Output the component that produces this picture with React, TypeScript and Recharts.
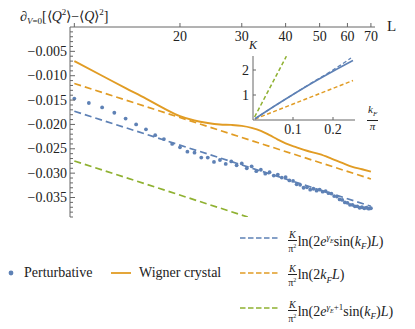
import React from 'react';
import { LineChart, Line, XAxis, YAxis } from 'recharts';

const BLUE = '#5e81b5';
const ORANGE = '#e19c24';
const GREEN = '#8fb131';
const AXIS = '#666';
const FONT = '"Liberation Serif", "Times New Roman", Times, serif';

// perturbative result, one value per integer L starting at 10
const perturbativeValues = [
  -0.0147, -0.0156, -0.0165, -0.0176, -0.0188, -0.02, -0.021, -0.0222, -0.023, -0.024,
  -0.0247, -0.0256, -0.0258, -0.0268, -0.0268, -0.0277, -0.0273, -0.0281, -0.0276, -0.0284,
  -0.028, -0.029, -0.0286, -0.0296, -0.0293, -0.0301, -0.0298, -0.0305, -0.0303, -0.0309,
  -0.0308, -0.0315, -0.0316, -0.0323, -0.0324, -0.033, -0.0329, -0.0334, -0.0332, -0.0336,
  -0.0334, -0.0338, -0.0337, -0.0341, -0.0342, -0.0347, -0.0348, -0.0354, -0.0355, -0.036,
  -0.0361, -0.0365, -0.0365, -0.0368, -0.0368, -0.0371, -0.037, -0.0372, -0.0371, -0.0373,
  -0.0372,
];

const wignerL = [10, 12, 14, 16, 18, 20, 22, 24, 26, 28, 30, 32, 34, 36, 38, 40, 43, 46, 50, 54, 58, 62, 66, 70];
const wignerValues = [
  -0.007, -0.01, -0.01255, -0.0147, -0.0167, -0.0183, -0.0192, -0.0197, -0.02, -0.0201,
  -0.0203, -0.0207, -0.0213, -0.0222, -0.0231, -0.0239, -0.0247, -0.0254, -0.0261, -0.027,
  -0.0279, -0.0287, -0.0292, -0.0297,
];

// asymptotic formulas (straight lines on the log axis)
const sinFormulaL = [10, 70];
const sinFormulaValues = [-0.0173, -0.0368];
const kfFormulaL = [10, 70];
const kfFormulaValues = [-0.0116, -0.0312];
const shiftedFormulaL = [10, 31.2];
const shiftedFormulaValues = [-0.0275, -0.039];

const xTicks = [10, 20, 30, 40, 50, 60, 70];
const yTicks = [
  -0.039, -0.038, -0.037, -0.036, -0.035, -0.034, -0.033, -0.032, -0.031, -0.03,
  -0.029, -0.028, -0.027, -0.026, -0.025, -0.024, -0.023, -0.022, -0.021, -0.02,
  -0.019, -0.018, -0.017, -0.016, -0.015, -0.014, -0.013, -0.012, -0.011, -0.01,
  -0.009, -0.008, -0.007, -0.006, -0.005, -0.004, -0.003, -0.002, -0.001,
];

// inset: K against k_F / pi
const insetBlueK = [0.005, 0.05, 0.1, 0.15, 0.2, 0.25];
const insetBlueValues = [0.05, 0.52, 1.02, 1.5, 1.95, 2.38];
const insetBlueDashK = [0.005, 0.05, 0.1, 0.15, 0.2, 0.245];
const insetBlueDashValues = [0.05, 0.52, 1.02, 1.52, 2.0, 2.48];
const insetOrangeK = [0.005, 0.25];
const insetOrangeValues = [0.04, 1.58];
const insetGreenK = [0.004, 0.0835];
const insetGreenValues = [0.12, 2.55];

const zip = (xs: number[], ys: number[]) => xs.map((x, i) => ({ x, v: ys[i] }));

const perturbative = perturbativeValues.map((v, i) => ({ x: 10 + i, v }));
const wigner = zip(wignerL, wignerValues);
const sinFormula = zip(sinFormulaL, sinFormulaValues);
const kfFormula = zip(kfFormulaL, kfFormulaValues);
const shiftedFormula = zip(shiftedFormulaL, shiftedFormulaValues);

function XTick({ x, y, payload }: any) {
  const v = payload.value;
  return (
    <g>
      <line x1={x} x2={x} y1={y} y2={y - 4} stroke={AXIS} />
      {v !== 10 && (
        <text x={x} y={y + 14} textAnchor="middle" fontSize={14} style={{ fontFamily: FONT }} fill="#222">
          {v}
        </text>
      )}
    </g>
  );
}

function YTick({ x, y, payload }: any) {
  const v = payload.value;
  const major = Math.round(v * 1000) % 5 === 0;
  return (
    <g>
      <line x1={x} x2={x + (major ? 5 : 3)} y1={y} y2={y} stroke={AXIS} />
      {major && (
        <text x={x - 3} y={y + 4.5} textAnchor="end" fontSize={14} style={{ fontFamily: FONT }} fill="#222">
          {'\u2212' + Math.abs(v).toFixed(3)}
        </text>
      )}
    </g>
  );
}

function InsetXTick({ x, y, payload }: any) {
  return (
    <g>
      <line x1={x} x2={x} y1={y} y2={y - 3} stroke={AXIS} />
      <text x={x} y={y + 14} textAnchor="middle" fontSize={14} style={{ fontFamily: FONT }} fill="#222">
        {payload.value.toFixed(1)}
      </text>
    </g>
  );
}

function InsetYTick({ x, y, payload }: any) {
  return (
    <g>
      <line x1={x} x2={x + 3} y1={y} y2={y} stroke={AXIS} />
      <text x={x - 4} y={y + 4.5} textAnchor="end" fontSize={14} style={{ fontFamily: FONT }} fill="#222">
        {payload.value}
      </text>
    </g>
  );
}

function Inset() {
  return (
    <LineChart width={150} height={115} margin={{ top: 16, right: 15, bottom: 0, left: 5 }}>
      <XAxis
        dataKey="x"
        type="number"
        domain={[0, 0.255]}
        ticks={[0.1, 0.2]}
        height={35}
        tickSize={0}
        tickMargin={0}
        tick={<InsetXTick />}
        axisLine={{ stroke: AXIS }}
        allowDataOverflow
      />
      <YAxis
        type="number"
        domain={[0, 2.56]}
        ticks={[1, 2]}
        width={28}
        tickSize={0}
        tickMargin={0}
        tick={<InsetYTick />}
        axisLine={{ stroke: AXIS }}
        allowDataOverflow
      />
      <Line data={zip(insetGreenK, insetGreenValues)} dataKey="v" type="linear" stroke={GREEN} strokeWidth={1.5} strokeDasharray="4 2.5" dot={false} isAnimationActive={false} />
      <Line data={zip(insetOrangeK, insetOrangeValues)} dataKey="v" type="linear" stroke={ORANGE} strokeWidth={1.5} strokeDasharray="4 2.5" dot={false} isAnimationActive={false} />
      <Line data={zip(insetBlueK, insetBlueValues)} dataKey="v" type="monotone" stroke={BLUE} strokeWidth={1.6} dot={false} isAnimationActive={false} />
      <Line data={zip(insetBlueDashK, insetBlueDashValues)} dataKey="v" type="monotone" stroke={BLUE} strokeWidth={1.3} strokeDasharray="4 2.5" dot={false} isAnimationActive={false} />
    </LineChart>
  );
}

function Fraction() {
  return (
    <span style={{ display: 'inline-flex', flexDirection: 'column', alignItems: 'center', fontSize: 10, lineHeight: '10px', verticalAlign: 'middle', marginRight: 1 }}>
      <i style={{ borderBottom: '1px solid #222', padding: '0 1px' }}>K</i>
      <span>
        π<sup style={{ fontSize: 6 }}>2</sup>
      </span>
    </span>
  );
}

const label: React.CSSProperties = { position: 'absolute', fontFamily: FONT, fontSize: 14, color: '#222', whiteSpace: 'nowrap', lineHeight: '16px' };

export default function App() {
  return (
    <div style={{ position: 'absolute', left: 0, top: 0, width: 415, height: 329, background: '#fff', fontFamily: FONT }}>
      <LineChart width={415} height={225} margin={{ top: 7, right: 40, bottom: 8, left: 8 }} style={{ fontFamily: FONT }}>
        <XAxis
          dataKey="x"
          type="number"
          scale="log"
          orientation="top"
          domain={[9.72, 71.9]}
          ticks={xTicks}
          height={20}
          tickSize={0}
          tickMargin={0}
          tick={<XTick />}
          axisLine={{ stroke: AXIS }}
          allowDataOverflow
        />
        <YAxis
          type="number"
          domain={[-0.039, 0]}
          ticks={yTicks}
          width={62}
          tickSize={0}
          tickMargin={0}
          tick={<YTick />}
          axisLine={{ stroke: AXIS }}
          interval={0}
          allowDataOverflow
        />
        <Line data={shiftedFormula} dataKey="v" type="linear" stroke={GREEN} strokeWidth={1.7} strokeDasharray="7 4" dot={false} isAnimationActive={false} />
        <Line data={kfFormula} dataKey="v" type="linear" stroke={ORANGE} strokeWidth={1.7} strokeDasharray="7 4" dot={false} isAnimationActive={false} />
        <Line data={sinFormula} dataKey="v" type="linear" stroke={BLUE} strokeWidth={1.7} strokeDasharray="7 4" dot={false} isAnimationActive={false} />
        <Line data={wigner} dataKey="v" type="monotone" stroke={ORANGE} strokeWidth={1.9} dot={false} isAnimationActive={false} />
        <Line
          data={perturbative}
          dataKey="v"
          type="linear"
          stroke="none"
          dot={{ r: 1.9, fill: BLUE, stroke: 'none' }}
          isAnimationActive={false}
        />
      </LineChart>

      <div style={{ position: 'absolute', left: 220, top: 40 }}>
        <Inset />
      </div>

      {/* axis titles */}
      <div style={{ ...label, left: 20, top: 4 }}>
        ∂<sub style={{ fontSize: 9 }}>
          <i>V</i>=0
        </sub>
        [⟨<i>Q</i>
        <sup style={{ fontSize: 9 }}>2</sup>⟩−⟨<i>Q</i>⟩<sup style={{ fontSize: 9 }}>2</sup>]
      </div>
      <div style={{ ...label, left: 387, top: 18, fontSize: 15 }}>L</div>
      <div style={{ ...label, left: 249, top: 37, fontSize: 12 }}>
        <i>K</i>
      </div>
      <div style={{ ...label, left: 367, top: 104, fontSize: 11, lineHeight: '11px', textAlign: 'center' }}>
        <div style={{ borderBottom: '1px solid #222', padding: '0 1px' }}>
          <i>k</i>
          <sub style={{ fontSize: 7 }}>
            <i>F</i>
          </sub>
        </div>
        <div>
          <i>π</i>
        </div>
      </div>

      {/* legend */}
      <svg style={{ position: 'absolute', left: 0, top: 0 }} width={415} height={329} pointerEvents="none">
        <circle cx={11} cy={273} r={2.4} fill={BLUE} />
        <line x1={111} x2={131} y1={273} y2={273} stroke={ORANGE} strokeWidth={1.8} />
        <line x1={240} x2={278} y1={238} y2={238} stroke={BLUE} strokeWidth={1.5} strokeDasharray="5.5 2.5" />
        <line x1={240} x2={278} y1={273} y2={273} stroke={ORANGE} strokeWidth={1.5} strokeDasharray="5.5 2.5" />
        <line x1={240} x2={278} y1={308} y2={308} stroke={GREEN} strokeWidth={1.5} strokeDasharray="5.5 2.5" />
      </svg>
      <div style={{ ...label, left: 24, top: 265 }}>Perturbative</div>
      <div style={{ ...label, left: 139, top: 265 }}>Wigner crystal</div>
      <div style={{ ...label, left: 288, top: 229 }}>
        <Fraction />
        ln(2<i>e</i>
        <sup style={{ fontSize: 9 }}>
          <i>γ</i>
          <sub style={{ fontSize: 6 }}>
            <i>E</i>
          </sub>
        </sup>
        sin(<i>k</i>
        <sub style={{ fontSize: 9 }}>
          <i>F</i>
        </sub>
        )<i>L</i>)
      </div>
      <div style={{ ...label, left: 288, top: 264 }}>
        <Fraction />
        ln(2<i>k</i>
        <sub style={{ fontSize: 9 }}>
          <i>F</i>
        </sub>
        <i>L</i>)
      </div>
      <div style={{ ...label, left: 288, top: 299 }}>
        <Fraction />
        ln(2<i>e</i>
        <sup style={{ fontSize: 9 }}>
          <i>γ</i>
          <sub style={{ fontSize: 6 }}>
            <i>E</i>
          </sub>
          +1
        </sup>
        sin(<i>k</i>
        <sub style={{ fontSize: 9 }}>
          <i>F</i>
        </sub>
        )<i>L</i>)
      </div>
    </div>
  );
}
